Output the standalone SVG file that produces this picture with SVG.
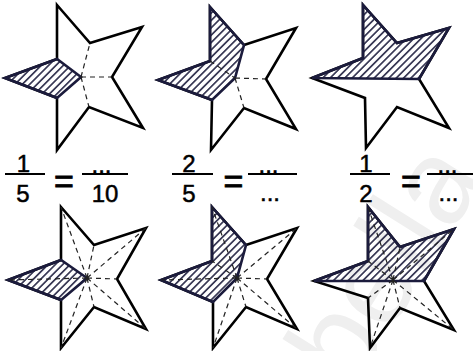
<svg xmlns="http://www.w3.org/2000/svg" width="473" height="351" viewBox="0 0 473 351">
<style>
.star{fill:none;stroke:#000;stroke-width:2.6;stroke-linejoin:miter}
.shade{fill:url(#hatch);stroke:#1b1b3c;stroke-width:2.6;stroke-linejoin:miter}
.dash{fill:none;stroke:#222;stroke-width:1.2;stroke-dasharray:5 4}
.t{font-family:"Liberation Sans",Arial,sans-serif;font-size:24px;fill:#000;stroke:#000;stroke-width:0.5;text-anchor:middle}
.eq{font-family:"Liberation Sans",Arial,sans-serif;font-size:34px;fill:#000;stroke:#000;stroke-width:0.9;text-anchor:middle}
.bar{stroke:#000;stroke-width:2}
.wm{font-family:"Liberation Sans",Arial,sans-serif;font-size:120px;fill:#efefef}
</style>
<defs>
<pattern id="hatch" width="5.2" height="5.2" patternUnits="userSpaceOnUse" patternTransform="rotate(45)">
<line x1="2.6" y1="0" x2="2.6" y2="5.2" stroke="#1b1b3c" stroke-width="1.5"/>
</pattern>
</defs>
<rect width="473" height="351" fill="#fff"/>
<text class="wm" transform="translate(352,392) rotate(-58)">bella</text>

<g id="star1">
<path class="star" d="M57,5 L90,43 L142,27 L112,77 L143,128 L89,107 L57,150 L57,98 L5,78 L57,59 Z"/>
<path class="shade" d="M5,78 L57,59 L81,77 L57,98 Z"/>
<path class="dash" d="M81,77 L90,43 M81,77 L112,77 M81,77 L89,107"/>
</g>

<g id="star2">
<path class="star" d="M210,7 L244,45 L296,28 L266,79 L296,129 L244,108 L211,150 L212,100 L158,80 L210,61 Z"/>
<path class="shade" d="M210,7 L244,45 L235,78 L212,100 L158,80 L210,61 Z"/>
<path class="dash" d="M235,78 L266,79 M235,78 L244,108 M210,61 L235,78"/>
</g>

<g id="star3">
<path class="star" d="M363,5 L397,43 L449,28 L419,79 L449,128 L397,107 L366,148 L365,98 L312,78 L363,58 Z"/>
<path class="shade" d="M312,78 L363,58 L363,5 L397,43 L449,28 L419,79 Z"/>
</g>

<g id="frac1">
<text class="t" x="23.5" y="172">1</text>
<line class="bar" x1="5" y1="174" x2="45" y2="174"/>
<text class="t" x="23" y="202">5</text>
<text class="eq" x="64" y="193">=</text>
<text class="t" x="101.5" y="173">...</text>
<line class="bar" x1="82" y1="174" x2="128" y2="174"/>
<text class="t" x="105" y="202">10</text>
</g>

<g id="frac2">
<text class="t" x="189" y="172">2</text>
<line class="bar" x1="172" y1="174" x2="213" y2="174"/>
<text class="t" x="189" y="202">5</text>
<text class="eq" x="233.5" y="193">=</text>
<text class="t" x="268.5" y="173">...</text>
<line class="bar" x1="248" y1="174" x2="297" y2="174"/>
<text class="t" x="270" y="201">...</text>
</g>

<g id="frac3">
<text class="t" x="366" y="172">1</text>
<line class="bar" x1="350" y1="174" x2="390" y2="174"/>
<text class="t" x="366" y="202">2</text>
<text class="eq" x="411" y="193">=</text>
<text class="t" x="447.5" y="173">...</text>
<line class="bar" x1="427" y1="174" x2="473" y2="174"/>
<text class="t" x="448.5" y="201">...</text>
</g>

<g id="star4">
<path class="star" d="M61,207 L94,245 L146,228 L117,279 L146,329 L94,307 L61,348 L61,300 L8,280 L61,260 Z"/>
<path class="shade" d="M8,280 L61,260 L87,278 L61,300 Z"/>
<path class="dash" d="M87,278 L61,207 M87,278 L94,245 M87,278 L146,228 M87,278 L117,279 M87,278 L146,329 M87,278 L94,307 M87,278 L61,348 M87,278 L8,280"/>
</g>

<g id="star5">
<path class="star" d="M212,207 L246,245 L297,228 L267,279 L297,329 L246,307 L213,348 L213,302 L161,280 L212,261 Z"/>
<path class="shade" d="M212,207 L246,245 L237,278 L213,302 L161,280 L212,261 Z"/>
<path class="dash" d="M237,278 L212,207 M237,278 L212,261 M237,278 L161,280 M237,278 L297,228 M237,278 L267,279 M237,278 L297,329 M237,278 L246,307 M237,278 L213,348"/>
</g>

<g id="star6">
<path class="star" d="M368,207 L400,247 L454,229 L424,281 L454,330 L400,308 L370,348 L368,298 L314,281 L368,261 Z"/>
<path class="shade" d="M314,281 L368,261 L368,207 L400,247 L454,229 L424,281 Z"/>
<path class="dash" d="M393,280 L368,207 M393,280 L400,247 M393,280 L454,229 M393,280 L368,261 M393,280 L454,330 M393,280 L400,308 M393,280 L370,348 M393,280 L368,298"/>
</g>
</svg>
